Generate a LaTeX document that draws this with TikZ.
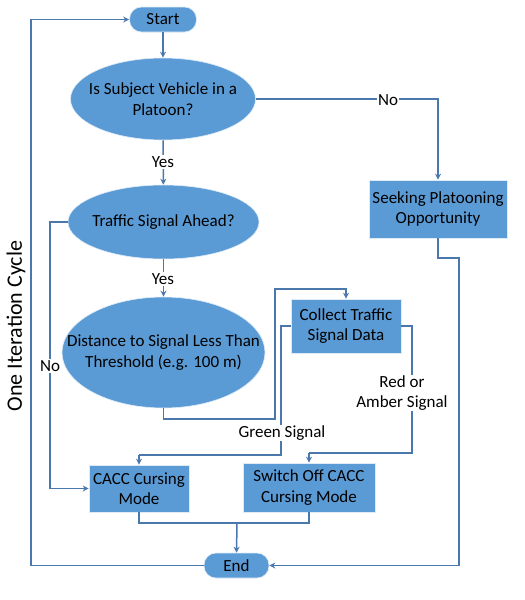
\documentclass[tikz,border=0pt]{standalone}
\usepackage{fontspec}
\setmainfont{Carlito}
\usetikzlibrary{shapes.geometric,arrows.meta}
\definecolor{boxfill}{HTML}{5B9BD5}
\definecolor{linec}{HTML}{4A78AC}
\tikzset{
  base/.style={fill=boxfill, draw=white!80!boxfill, line width=0.6pt, text=black, align=center, font=\fontsize{17}{20.5}\selectfont, inner sep=1pt},
  term/.style={base, rectangle, rounded corners=12pt, minimum height=25pt},
  dec/.style={base, ellipse, inner xsep=-30pt, inner ysep=0pt},
  proc/.style={base, rectangle},
  conn/.style={draw=linec, line width=1.5pt},
  arr/.style={conn, -{Stealth[length=6pt,width=6pt]}},
  lbl/.style={fill=white, inner sep=1pt, font=\fontsize{17}{20}\selectfont, align=center}
}
\begin{document}
\begin{tikzpicture}[x=1pt,y=-1pt]
\useasboundingbox (0,0) rectangle (525,600);
\node[term, minimum width=67pt] (start) at (163,19.5) {Start};
\node[dec, minimum width=185pt, minimum height=82pt] (e1) at (163,99) {Is Subject Vehicle in a\\Platoon?};
\node[dec, minimum width=191pt, minimum height=74pt] (e2) at (163.5,222) {Traffic Signal Ahead?};
\node[dec, minimum width=203pt, minimum height=111pt] (e3) at (163.5,352.5) {Distance to Signal Less Than\\Threshold (e.g. 100 m)};
\node[proc, minimum width=138pt, minimum height=58pt] (seek) at (438,209) {Seeking Platooning\\Opportunity};
\node[proc, minimum width=110pt, minimum height=54pt] (coll) at (346,326) {Collect Traffic\\Signal Data};
\node[proc, minimum width=100pt, minimum height=47pt] (cacc) at (139,488.5) {CACC Cursing\\Mode};
\node[proc, minimum width=132pt, minimum height=49pt] (sw) at (309,487.5) {Switch Off CACC\\Cursing Mode};
\node[term, minimum width=65pt] (end) at (236.5,565.5) {End};
\node[rotate=90, font=\fontsize{22}{26}\selectfont] (cyc) at (16,326) {One Iteration Cycle};

\coordinate (jn) at (237,523);
\draw[arr] (start) -- (e1);
\draw[arr] (e1.east) -- (438,99) -- (seek.north);
\node[lbl] (lno1) at (388,100) {No};
\draw[arr] (e1) -- (e2);
\node[lbl] (lyes1) at (163,162) {Yes};
\draw[arr] (e2.west) -- (50,222) |- (cacc.west);
\node[lbl] (lno2) at (50,366) {No};
\draw[arr] (e2) -- (e3);
\node[lbl] (lyes2) at (163,279) {Yes};
\draw[arr] (e3.south) -- (163.5,419) -- (275,419) -- (275,289) -- (346,289) -- (coll.north);
\draw[conn] (coll.west) -- (281,326) -- (281,455) -- (139,455);
\draw[arr] (139,455) -- (cacc.north);
\node[lbl] (lgreen) at (282,433) {Green Signal};
\draw[conn] (coll.east) -- (412,326) -- (412,453) -- (309,453);
\draw[arr] (309,453) -- (sw.north);
\node[lbl] (lred) at (402,393) {Red or\\Amber Signal};
\draw[conn] (cacc.south) -- (139,523) -- (jn);
\draw[conn] (sw.south) -- (309,523) -- (jn);
\draw[arr] (jn) -- (end.north);
\draw[arr] (seek.south) -- (438,258) -- (459,258) |- (end.east);
\draw[arr] (end.west) -- (31,565.5) |- (start.west);
\end{tikzpicture}
\end{document}
